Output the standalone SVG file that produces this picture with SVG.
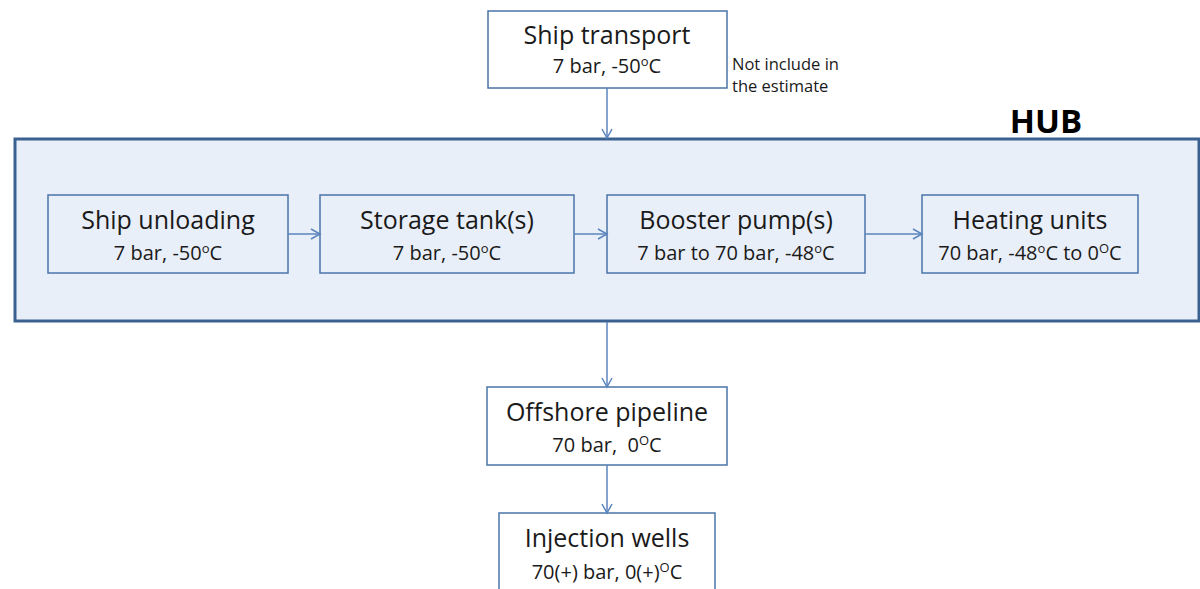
<svg xmlns="http://www.w3.org/2000/svg" width="1200" height="589" viewBox="0 0 1200 589">
<style>
.box{fill:#ffffff;stroke:#4a74a8;stroke-width:1.5}
.inner{fill:none;stroke:#4a74a8;stroke-width:1.5}
.hub{fill:#e9eff8;stroke:#3b6190;stroke-width:3}
.t{font-family:"Open Sans","Liberation Sans",sans-serif;font-size:25px;fill:#1a1a1a;text-anchor:middle}
.s{font-family:"Open Sans","Liberation Sans",sans-serif;font-size:20px;fill:#1a1a1a;text-anchor:middle;white-space:pre}
.n{font-family:"Open Sans","Liberation Sans",sans-serif;font-size:16.5px;fill:#1a1a1a}
.c{fill:none;stroke:#5b85be;stroke-width:1.5;marker-end:url(#ah)}
.sup{font-size:13px}
</style>
<defs>
<marker id="ah" markerWidth="12" markerHeight="12" refX="10" refY="6" orient="auto" markerUnits="userSpaceOnUse">
<path d="M1,1 L10,6 L1,11" fill="none" stroke="#5b85be" stroke-width="1.5"/>
</marker>
</defs>
<g id="hub">
<rect class="hub" x="15" y="139" width="1184" height="182"/>
<text x="1046" y="133" font-family="'Open Sans','Liberation Sans',sans-serif" font-size="33" font-weight="bold" fill="#000" text-anchor="middle">HUB</text>
</g>
<g id="ship-transport">
<rect class="box" x="488" y="11" width="239" height="77"/>
<text class="t" x="607" y="44">Ship transport</text>
<text class="s" x="607" y="73">7 bar, -50<tspan class="sup" dy="-7">o</tspan><tspan dy="7">C</tspan></text>
</g>
<g id="note">
<text class="n" x="732" y="70">Not include in</text>
<text class="n" x="732" y="92">the estimate</text>
</g>
<g id="ship-unloading">
<rect class="inner" x="48" y="195" width="240" height="78"/>
<text class="t" x="168" y="229">Ship unloading</text>
<text class="s" x="168" y="260">7 bar, -50<tspan class="sup" dy="-7">o</tspan><tspan dy="7">C</tspan></text>
</g>
<g id="storage-tank">
<rect class="inner" x="320" y="195" width="254" height="78"/>
<text class="t" x="447" y="229">Storage tank(s)</text>
<text class="s" x="447" y="260">7 bar, -50<tspan class="sup" dy="-7">o</tspan><tspan dy="7">C</tspan></text>
</g>
<g id="booster-pump">
<rect class="inner" x="607" y="195" width="258" height="78"/>
<text class="t" x="736" y="229">Booster pump(s)</text>
<text class="s" x="736" y="260">7 bar to 70 bar, -48<tspan class="sup" dy="-7">o</tspan><tspan dy="7">C</tspan></text>
</g>
<g id="heating-units">
<rect class="inner" x="922" y="195" width="216" height="78"/>
<text class="t" x="1030" y="229">Heating units</text>
<text class="s" x="1030" y="260">70 bar, -48<tspan class="sup" dy="-7">o</tspan><tspan dy="7">C to 0</tspan><tspan class="sup" dy="-7">O</tspan><tspan dy="7">C</tspan></text>
</g>
<g id="offshore-pipeline">
<rect class="box" x="487" y="387" width="240" height="78"/>
<text class="t" x="607" y="421">Offshore pipeline</text>
<text class="s" x="607" y="452">70 bar,  0<tspan class="sup" dy="-7">O</tspan><tspan dy="7">C</tspan></text>
</g>
<g id="injection-wells">
<rect class="box" x="499" y="513" width="216" height="90"/>
<text class="t" x="607" y="547">Injection wells</text>
<text class="s" x="607" y="579">70(+) bar, 0(+)<tspan class="sup" dy="-7">O</tspan><tspan dy="7">C</tspan></text>
</g>
<g id="connectors">
<line class="c" x1="607" y1="88" x2="607" y2="138"/>
<line class="c" x1="288" y1="234" x2="320" y2="234"/>
<line class="c" x1="574" y1="234" x2="607" y2="234"/>
<line class="c" x1="865" y1="234" x2="922" y2="234"/>
<line class="c" x1="607" y1="322" x2="607" y2="387"/>
<line class="c" x1="607" y1="465" x2="607" y2="513"/>
</g>
</svg>
